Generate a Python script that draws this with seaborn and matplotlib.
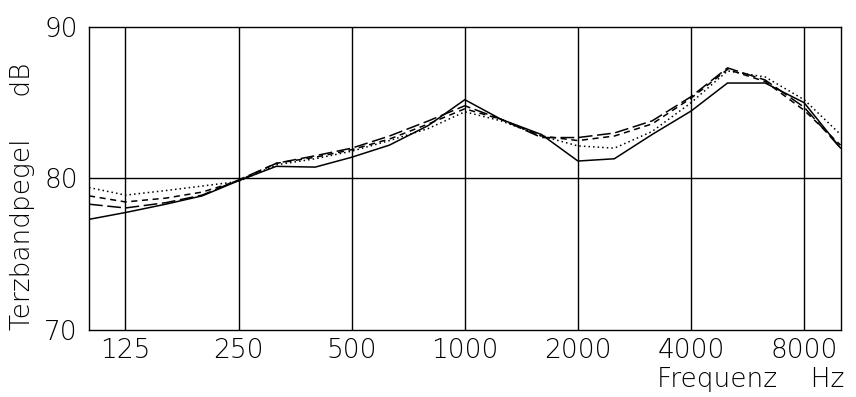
import matplotlib
matplotlib.use('Agg')
import matplotlib.pyplot as plt
import seaborn as sns
import pandas as pd

# third-octave band centre frequencies (Hz)
freqs = [100, 125, 160, 200, 250, 315, 400, 500, 630, 800, 1000,
         1250, 1600, 2000, 2500, 3150, 4000, 5000, 6300, 8000, 10000]

# levels in dB
solid = [77.3, 77.75, 78.3, 78.85, 79.85, 80.8, 80.75, 81.4, 82.2, 83.5, 85.2,
         83.9, 82.9, 81.15, 81.3, 82.9, 84.45, 86.3, 86.3, 85.0, 82.0]
dotted = [79.4, 78.9, 79.2, 79.5, 79.8, 80.9, 81.3, 81.8, 82.5, 83.3, 84.4,
          83.8, 82.8, 82.15, 82.0, 83.1, 85.0, 87.1, 86.7, 85.2, 82.9]
dashed = [78.85, 78.45, 78.7, 79.1, 79.85, 81.0, 81.4, 81.9, 82.6, 83.6, 84.6,
          83.9, 82.8, 82.5, 82.8, 83.6, 85.3, 87.2, 86.4, 84.5, 82.2]
longdash = [78.3, 78.05, 78.4, 78.9, 79.9, 81.0, 81.5, 82.0, 82.8, 83.8, 84.8,
            83.9, 82.7, 82.7, 83.0, 83.8, 85.4, 87.3, 86.5, 84.7, 82.0]

tick_freqs = [125, 250, 500, 1000, 2000, 4000, 8000]
tick_labels = ['125', '250', '500', '1000', '2000', '4000', '8000']

sns.set_style('white')
plt.rcParams['font.family'] = ['DejaVu Sans']
plt.rcParams['font.weight'] = 200

fig = plt.figure(figsize=(8.56, 3.97), dpi=100)
ax = fig.add_axes([0.104, 0.169, 0.878, 0.763])

series = [(solid, '-'), (dotted, (0, (1, 2))), (dashed, (0, (4, 3))), (longdash, (0, (9, 3)))]
for values, ls in series:
    df = pd.DataFrame({'f': freqs, 'L': values})
    sns.lineplot(data=df, x='f', y='L', ax=ax, color='black', linewidth=1.1, linestyle=ls)

ax.set_xscale('log')
ax.set_xlim(100, 10000)
ax.set_ylim(70, 90)
ax.minorticks_off()
ax.set_xticks(tick_freqs)
ax.set_xticklabels(tick_labels)
ax.set_yticks([70, 80, 90])

for f in tick_freqs:
    ax.axvline(f, color='black', linewidth=1.0, zorder=0)
ax.axhline(80, color='black', linewidth=1.0, zorder=0)

for s in ax.spines.values():
    s.set_color('black')
    s.set_linewidth(1.0)

ax.tick_params(axis='both', length=0, labelsize=19, colors='black')
ax.tick_params(axis='x', pad=6)
ax.tick_params(axis='y', pad=8)

ax.set_xlabel('')
ax.set_ylabel('Terzbandpegel     dB', fontsize=19, fontweight=200, color='black')
ax.yaxis.set_label_coords(-0.072, 0.44)
fig.text(0.987, 0.012, 'Frequenz    Hz', ha='right', va='bottom', fontsize=19,
         fontweight=200, color='black')

fig.savefig('out.png', dpi=100)
